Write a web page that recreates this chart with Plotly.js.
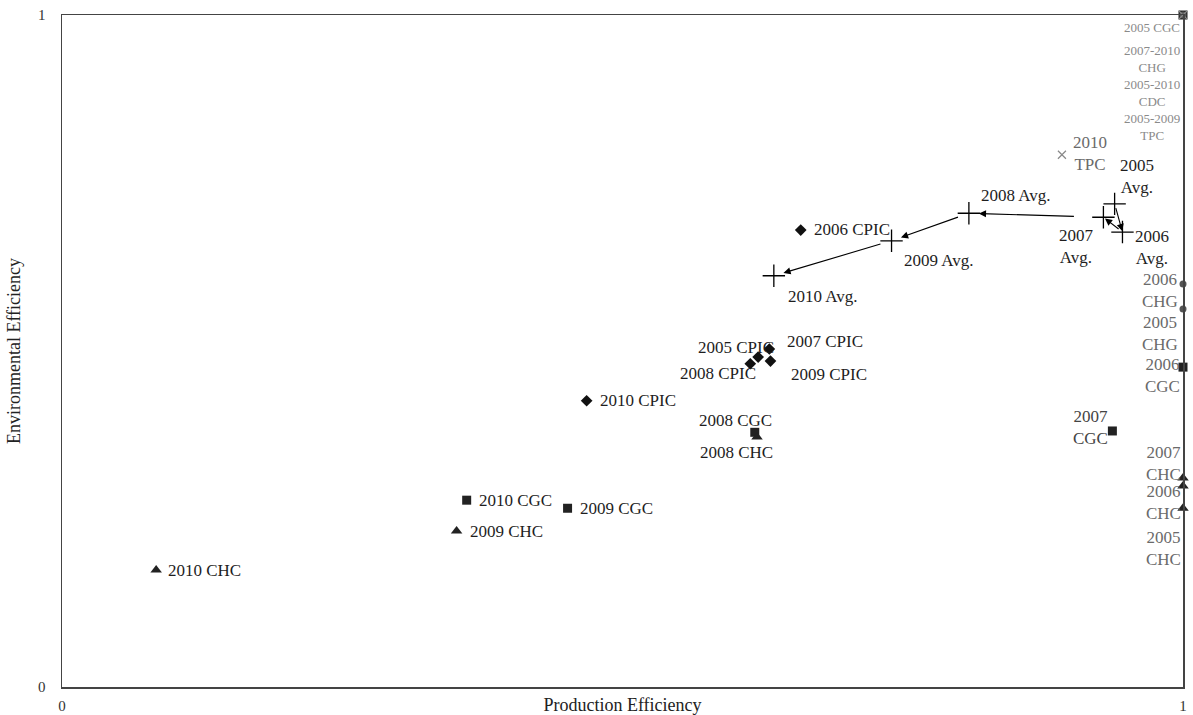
<!DOCTYPE html>
<html>
<head>
<meta charset="utf-8">
<script src="https://cdn.plot.ly/plotly-3.0.1.min.js"></script>
<style>html,body{margin:0;padding:0;background:#fff;}</style>
</head>
<body>
<div id="chart" style="width:1193px;height:715px;"></div>
<script>
// ---- data ----
const avgLabels = ['2005 Avg.', '2006 Avg.', '2007 Avg.', '2008 Avg.', '2009 Avg.', '2010 Avg.'];
const avgX = [0.939, 0.946, 0.929, 0.809, 0.740, 0.635];
const avgY = [0.719, 0.677, 0.699, 0.705, 0.664, 0.612];

const cpicLabels = ['2005 CPIC', '2006 CPIC', '2007 CPIC', '2008 CPIC', '2009 CPIC', '2010 CPIC'];
const cpicX = [0.621, 0.659, 0.631, 0.614, 0.632, 0.468];
const cpicY = [0.491, 0.680, 0.503, 0.481, 0.485, 0.426];

const cgcLabels = ['2005 CGC', '2006 CGC', '2007 CGC', '2008 CGC', '2009 CGC', '2010 CGC'];
const cgcX = [1, 1, 0.937, 0.618, 0.451, 0.361];
const cgcY = [1, 0.476, 0.381, 0.379, 0.266, 0.278];

const chcLabels = ['2005 CHC', '2006 CHC', '2007 CHC', '2008 CHC', '2009 CHC', '2010 CHC'];
const chcX = [1, 1, 1, 0.620, 0.352, 0.084];
const chcY = [0.266, 0.299, 0.311, 0.372, 0.232, 0.174];

const chgLabels = ['2005 CHG', '2006 CHG', '2007-2010 CHG'];
const chgX = [1, 1, 1];
const chgY = [0.5625, 0.5997, 1];

const cdcLabels = ['2005-2010 CDC'];
const cdcX = [1];
const cdcY = [1];

const tpcLabels = ['2005-2009 TPC', '2010 TPC'];
const tpcX = [1, 0.892];
const tpcY = [1, 0.792];

const xTicks = [0, 1];
const yTicks = [0, 1];
const xTitle = 'Production Efficiency';
const yTitle = 'Environmental Efficiency';

// ---- label placement (pixel offsets from the point), kept apart from the data ----
const DARK = '#1e1e1e', GREY = '#6a6a6a', LIGHT = '#8a8a8a';
const labelStyle = {
  '2010 CHC': {dx: 10, dy: 0, a: 'left'},
  '2009 CHC': {dx: 11, dy: 0, a: 'left'},
  '2010 CGC': {dx: 10, dy: 0, a: 'left'},
  '2009 CGC': {dx: 10, dy: 0, a: 'left'},
  '2010 CPIC': {dx: 11, dy: 0, a: 'left'},
  '2006 CPIC': {dx: 11, dy: 1, a: 'left'},
  '2008 CGC': {dx: -19, dy: 12, a: 'center'},
  '2008 CHC': {dx: -21, dy: -15, a: 'center'},
  '2005 CPIC': {dx: -22, dy: 10, a: 'center'},
  '2008 CPIC': {dx: -32, dy: -10, a: 'center'},
  '2007 CPIC': {dx: 16, dy: 7, a: 'left'},
  '2009 CPIC': {dx: 19, dy: -13, a: 'left'},
  '2009 Avg.': {dx: 10, dy: -20, a: 'left'},
  '2010 Avg.': {dx: 12, dy: -21, a: 'left'},
  '2008 Avg.': {dx: 10, dy: 18, a: 'left'},
  '2007 Avg.': {dx: -27, dy: -29, a: 'center', br: true},
  '2006 Avg.': {dx: 30, dy: -15, a: 'center', br: true},
  '2005 Avg.': {dx: 22, dy: 27, a: 'center', br: true},
  '2010 TPC': {dx: 28, dy: 1, a: 'center', br: true, c: GREY},
  '2005 CGC': {dx: -31, dy: -12, a: 'center', c: LIGHT, s: 13},
  '2007-2010 CHG': {dx: -31, dy: -44, a: 'center', br: true, c: LIGHT, s: 13},
  '2005-2010 CDC': {dx: -31, dy: -78, a: 'center', br: true, c: LIGHT, s: 13},
  '2005-2009 TPC': {dx: -31, dy: -112, a: 'center', br: true, c: LIGHT, s: 13},
  '2006 CHG': {dx: -23, dy: -6, a: 'center', br: true, c: GREY},
  '2005 CHG': {dx: -23, dy: -24, a: 'center', br: true, c: GREY},
  '2006 CGC': {dx: -21, dy: -8, a: 'center', br: true, c: GREY},
  '2007 CGC': {dx: -22, dy: 3, a: 'center', br: true, c: '#444'},
  '2007 CHC': {dx: -20, dy: 15, a: 'center', br: true, c: GREY},
  '2006 CHC': {dx: -20, dy: -16, a: 'center', br: true, c: GREY},
  '2005 CHC': {dx: -20, dy: -40, a: 'center', br: true, c: GREY}
};

const FONT = 'Liberation Serif, Times New Roman, serif';

function markerTrace(name, xs, ys, symbol, size, color, lineW) {
  return {
    type: 'scatter', mode: 'markers', name: name, x: xs, y: ys,
    cliponaxis: false, hoverinfo: 'x+y',
    marker: {symbol: symbol, size: size, color: color,
             line: {width: lineW || 0, color: color}}
  };
}

const traces = [
  markerTrace('CPIC', cpicX, cpicY, 'diamond', 9, '#111'),
  markerTrace('CGC', cgcX, cgcY, 'square', 9, '#222'),
  markerTrace('CHC', chcX, chcY, 'triangle-up', 10, '#222'),
  markerTrace('CHG', chgX, chgY, 'circle', 7, '#555'),
  markerTrace('CDC', cdcX, cdcY, 'x-thin', 6, '#777', 1),
  markerTrace('TPC', tpcX, tpcY, 'x-thin', 8, '#888', 1.2),
  markerTrace('Avg.', avgX, avgY, 'cross-thin', 16, '#000', 1.3)
];

const annotations = [];
function addLabels(labels, xs, ys) {
  labels.forEach((lab, i) => {
    const st = labelStyle[lab] || {dx: 10, dy: 0, a: 'left'};
    let txt = lab;
    if (st.br) {
      const k = lab.lastIndexOf(' ');
      txt = lab.slice(0, k) + '<br>' + lab.slice(k + 1);
    }
    annotations.push({
      x: xs[i], y: ys[i], xref: 'x', yref: 'y', text: txt, showarrow: false,
      xanchor: st.a, yanchor: 'middle', xshift: st.dx, yshift: st.dy,
      align: 'center',
      font: {family: FONT, size: st.s || 17, color: st.c || DARK}
    });
  });
}
addLabels(avgLabels, avgX, avgY);
addLabels(cpicLabels, cpicX, cpicY);
addLabels(cgcLabels, cgcX, cgcY);
addLabels(chcLabels, chcX, chcY);
addLabels(chgLabels, chgX, chgY);
addLabels(cdcLabels, cdcX, cdcY);
addLabels(tpcLabels, tpcX, tpcY);

// arrows linking consecutive yearly averages
const arrowGap = [[3, 1], [3, 2], [28, 10], [10, 10], [10, 10]];
for (let i = 0; i < avgX.length - 1; i++) {
  annotations.push({
    x: avgX[i + 1], y: avgY[i + 1], ax: avgX[i], ay: avgY[i],
    xref: 'x', yref: 'y', axref: 'x', ayref: 'y', text: '',
    showarrow: true, arrowhead: 2, arrowsize: 1.3, arrowwidth: 1.1,
    arrowcolor: '#000', startstandoff: arrowGap[i][0], standoff: arrowGap[i][1]
  });
}

const axisBase = {
  range: [0, 1], showgrid: false, zeroline: false, showline: true, mirror: true,
  linecolor: '#444', linewidth: 1.5, ticks: '', fixedrange: true,
  tickfont: {family: FONT, size: 15, color: '#333'}
};

const layout = {
  width: 1193, height: 715,
  margin: {l: 62, r: 10, t: 15, b: 28},
  paper_bgcolor: '#fff', plot_bgcolor: '#fff',
  showlegend: false,
  font: {family: FONT},
  xaxis: Object.assign({}, axisBase, {
    tickvals: xTicks, ticktext: xTicks.map(String), ticklabelstandoff: 4,
    title: {text: xTitle, font: {family: FONT, size: 18, color: '#222'}, standoff: 0}
  }),
  yaxis: Object.assign({}, axisBase, {
    tickvals: yTicks, ticktext: yTicks.map(String), ticklabelstandoff: 12,
    title: {text: yTitle, font: {family: FONT, size: 18, color: '#222'}, standoff: 12}
  }),
  annotations: annotations
};

Plotly.newPlot('chart', traces, layout, {displayModeBar: false, staticPlot: true});
</script>
</body>
</html>
